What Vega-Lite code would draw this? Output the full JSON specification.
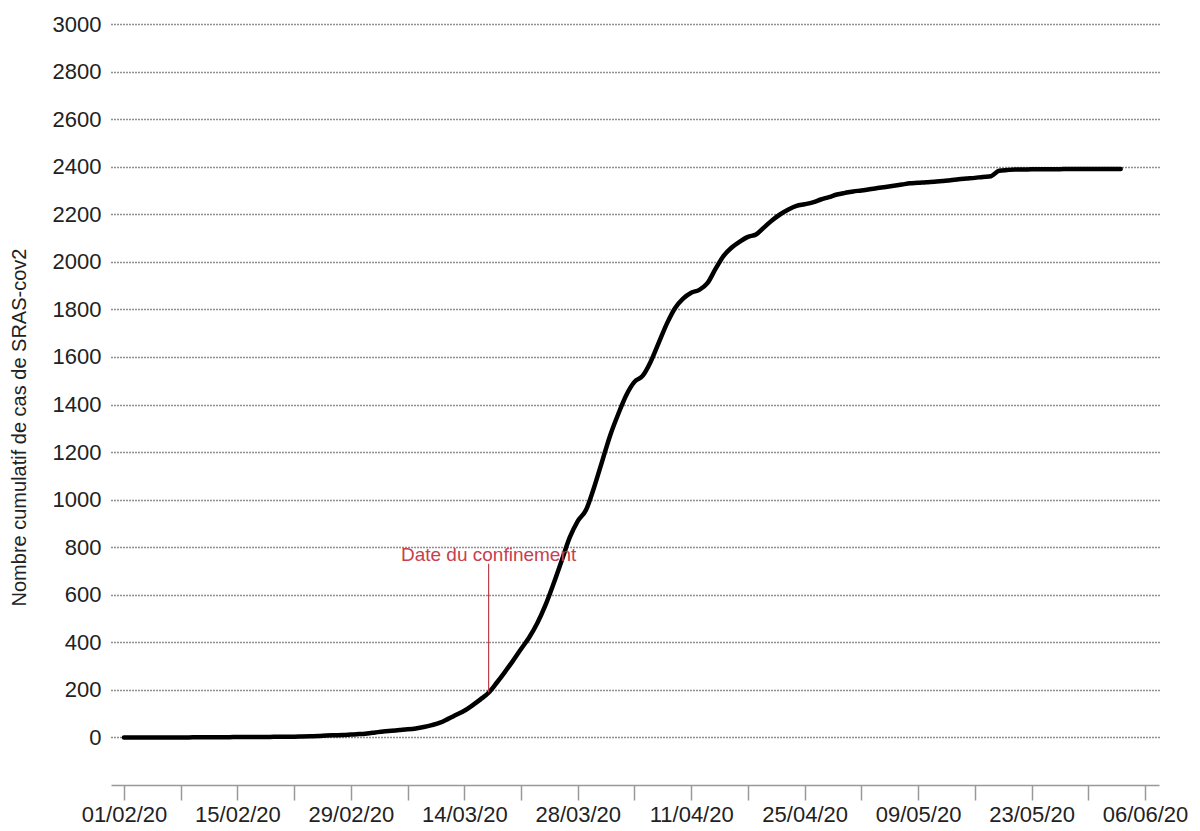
{
  "$schema": "https://vega.github.io/schema/vega-lite/v6.json",
  "width": 1048,
  "height": 761,
  "autosize": {"type": "none"},
  "padding": {"left": 111, "top": 24, "right": 41, "bottom": 46},
  "background": "white",
  "config": {
    "view": {"stroke": null},
    "font": "Liberation Sans"
  },
  "datasets": {
    "cases": [
      {"d": "2020-02-01", "n": 0}, {"d": "2020-02-02", "n": 0}, {"d": "2020-02-03", "n": 0}, {"d": "2020-02-04", "n": 0},
      {"d": "2020-02-05", "n": 0}, {"d": "2020-02-06", "n": 0}, {"d": "2020-02-07", "n": 0}, {"d": "2020-02-08", "n": 0},
      {"d": "2020-02-09", "n": 0}, {"d": "2020-02-10", "n": 1}, {"d": "2020-02-11", "n": 1}, {"d": "2020-02-12", "n": 1},
      {"d": "2020-02-13", "n": 1}, {"d": "2020-02-14", "n": 1}, {"d": "2020-02-15", "n": 2}, {"d": "2020-02-16", "n": 2},
      {"d": "2020-02-17", "n": 2}, {"d": "2020-02-18", "n": 2}, {"d": "2020-02-19", "n": 2}, {"d": "2020-02-20", "n": 3},
      {"d": "2020-02-21", "n": 3}, {"d": "2020-02-22", "n": 3}, {"d": "2020-02-23", "n": 4}, {"d": "2020-02-24", "n": 5},
      {"d": "2020-02-25", "n": 6}, {"d": "2020-02-26", "n": 8}, {"d": "2020-02-27", "n": 9}, {"d": "2020-02-28", "n": 10},
      {"d": "2020-02-29", "n": 12},
      {"d": "2020-03-01", "n": 14}, {"d": "2020-03-02", "n": 17}, {"d": "2020-03-03", "n": 21}, {"d": "2020-03-04", "n": 25},
      {"d": "2020-03-05", "n": 28}, {"d": "2020-03-06", "n": 31}, {"d": "2020-03-07", "n": 34}, {"d": "2020-03-08", "n": 38},
      {"d": "2020-03-09", "n": 44}, {"d": "2020-03-10", "n": 52}, {"d": "2020-03-11", "n": 62}, {"d": "2020-03-12", "n": 78},
      {"d": "2020-03-13", "n": 95}, {"d": "2020-03-14", "n": 112}, {"d": "2020-03-15", "n": 135}, {"d": "2020-03-16", "n": 160},
      {"d": "2020-03-17", "n": 188}, {"d": "2020-03-18", "n": 230}, {"d": "2020-03-19", "n": 275}, {"d": "2020-03-20", "n": 322},
      {"d": "2020-03-21", "n": 372}, {"d": "2020-03-22", "n": 420}, {"d": "2020-03-23", "n": 480}, {"d": "2020-03-24", "n": 555},
      {"d": "2020-03-25", "n": 645}, {"d": "2020-03-26", "n": 742}, {"d": "2020-03-27", "n": 840}, {"d": "2020-03-28", "n": 910},
      {"d": "2020-03-29", "n": 955}, {"d": "2020-03-30", "n": 1050}, {"d": "2020-03-31", "n": 1160},
      {"d": "2020-04-01", "n": 1270}, {"d": "2020-04-02", "n": 1360}, {"d": "2020-04-03", "n": 1440}, {"d": "2020-04-04", "n": 1495},
      {"d": "2020-04-05", "n": 1520}, {"d": "2020-04-06", "n": 1580}, {"d": "2020-04-07", "n": 1660}, {"d": "2020-04-08", "n": 1740},
      {"d": "2020-04-09", "n": 1805}, {"d": "2020-04-10", "n": 1845}, {"d": "2020-04-11", "n": 1870}, {"d": "2020-04-12", "n": 1882},
      {"d": "2020-04-13", "n": 1910}, {"d": "2020-04-14", "n": 1970}, {"d": "2020-04-15", "n": 2025}, {"d": "2020-04-16", "n": 2060},
      {"d": "2020-04-17", "n": 2085}, {"d": "2020-04-18", "n": 2105}, {"d": "2020-04-19", "n": 2115}, {"d": "2020-04-20", "n": 2145},
      {"d": "2020-04-21", "n": 2175}, {"d": "2020-04-22", "n": 2200}, {"d": "2020-04-23", "n": 2220}, {"d": "2020-04-24", "n": 2235},
      {"d": "2020-04-25", "n": 2242}, {"d": "2020-04-26", "n": 2250}, {"d": "2020-04-27", "n": 2262}, {"d": "2020-04-28", "n": 2272},
      {"d": "2020-04-29", "n": 2283}, {"d": "2020-04-30", "n": 2290},
      {"d": "2020-05-01", "n": 2296}, {"d": "2020-05-02", "n": 2300}, {"d": "2020-05-03", "n": 2305}, {"d": "2020-05-04", "n": 2310},
      {"d": "2020-05-05", "n": 2315}, {"d": "2020-05-06", "n": 2320}, {"d": "2020-05-07", "n": 2325}, {"d": "2020-05-08", "n": 2330},
      {"d": "2020-05-09", "n": 2332}, {"d": "2020-05-10", "n": 2335}, {"d": "2020-05-11", "n": 2337}, {"d": "2020-05-12", "n": 2340},
      {"d": "2020-05-13", "n": 2343}, {"d": "2020-05-14", "n": 2347}, {"d": "2020-05-15", "n": 2350}, {"d": "2020-05-16", "n": 2353},
      {"d": "2020-05-17", "n": 2357}, {"d": "2020-05-18", "n": 2360}, {"d": "2020-05-19", "n": 2383}, {"d": "2020-05-20", "n": 2386},
      {"d": "2020-05-21", "n": 2388}, {"d": "2020-05-22", "n": 2388}, {"d": "2020-05-23", "n": 2389}, {"d": "2020-05-24", "n": 2389},
      {"d": "2020-05-25", "n": 2389}, {"d": "2020-05-26", "n": 2389}, {"d": "2020-05-27", "n": 2390}, {"d": "2020-05-28", "n": 2390},
      {"d": "2020-05-29", "n": 2390}, {"d": "2020-05-30", "n": 2390}, {"d": "2020-05-31", "n": 2390},
      {"d": "2020-06-01", "n": 2390}, {"d": "2020-06-02", "n": 2390}, {"d": "2020-06-03", "n": 2390}
    ],
    "annot": [
      {"d": "2020-03-17", "lo": 190, "hi": 730, "ty": 766, "label": "Date du confinement"}
    ]
  },
  "layer": [
    {
      "data": {"name": "cases"},
      "mark": {"type": "line", "color": "black", "strokeWidth": 4.5, "interpolate": "monotone", "strokeCap": "round", "strokeJoin": "round"},
      "encoding": {
        "x": {
          "field": "d", "type": "temporal",
          "scale": {"type": "utc", "domain": [
            {"year": 2020, "month": "jan", "date": 30, "hours": 9, "minutes": 36, "utc": true},
            {"year": 2020, "month": "jun", "date": 7, "hours": 17, "minutes": 30, "utc": true}
          ]},
          "axis": {
            "title": null,
            "grid": false,
            "values": [
              {"year": 2020, "month": "feb", "date": 1, "utc": true},
              {"year": 2020, "month": "feb", "date": 8, "utc": true},
              {"year": 2020, "month": "feb", "date": 15, "utc": true},
              {"year": 2020, "month": "feb", "date": 22, "utc": true},
              {"year": 2020, "month": "feb", "date": 29, "utc": true},
              {"year": 2020, "month": "mar", "date": 7, "utc": true},
              {"year": 2020, "month": "mar", "date": 14, "utc": true},
              {"year": 2020, "month": "mar", "date": 21, "utc": true},
              {"year": 2020, "month": "mar", "date": 28, "utc": true},
              {"year": 2020, "month": "apr", "date": 4, "utc": true},
              {"year": 2020, "month": "apr", "date": 11, "utc": true},
              {"year": 2020, "month": "apr", "date": 18, "utc": true},
              {"year": 2020, "month": "apr", "date": 25, "utc": true},
              {"year": 2020, "month": "may", "date": 2, "utc": true},
              {"year": 2020, "month": "may", "date": 9, "utc": true},
              {"year": 2020, "month": "may", "date": 16, "utc": true},
              {"year": 2020, "month": "may", "date": 23, "utc": true},
              {"year": 2020, "month": "may", "date": 30, "utc": true},
              {"year": 2020, "month": "jun", "date": 6, "utc": true}
            ],
            "labelExpr": "round((datum.value - 1580515200000) / 604800000) % 2 == 0 ? utcFormat(datum.value, '%d/%m/%y') : ''",
            "labelFlush": false,
            "labelOverlap": false,
            "labelFontSize": 22,
            "labelColor": "#222",
            "labelPadding": 4,
            "domainColor": "#999",
            "domainWidth": 1.5,
            "tickColor": "#999",
            "tickWidth": 1.5,
            "tickSize": 15
          }
        },
        "y": {
          "field": "n", "type": "quantitative",
          "scale": {"domain": [-200, 3000], "nice": false, "zero": false},
          "axis": {
            "title": "Nombre cumulatif de cas de SRAS-cov2",
            "titleFontSize": 20,
            "titleFontWeight": "normal",
            "titleColor": "#222",
            "titleX": -92,
            "titleY": 403,
            "titleAngle": -90,
            "titleAlign": "center",
            "titleBaseline": "middle",
            "values": [0, 200, 400, 600, 800, 1000, 1200, 1400, 1600, 1800, 2000, 2200, 2400, 2600, 2800, 3000],
            "format": "d",
            "grid": true,
            "gridColor": "#222",
            "gridDash": [1, 2],
            "gridWidth": 1.3,
            "domain": false,
            "ticks": false,
            "labelPadding": 10,
            "labelFontSize": 22,
            "labelColor": "#222"
          }
        }
      }
    },
    {
      "data": {"name": "annot"},
      "mark": {"type": "rule", "color": "#b8404c", "strokeWidth": 1.2},
      "encoding": {
        "x": {"field": "d", "type": "temporal"},
        "y": {"field": "lo", "type": "quantitative"},
        "y2": {"field": "hi"}
      }
    },
    {
      "data": {"name": "annot"},
      "mark": {"type": "text", "color": "#c8404c", "fontSize": 19, "align": "center", "baseline": "middle"},
      "encoding": {
        "x": {"field": "d", "type": "temporal"},
        "y": {"field": "ty", "type": "quantitative"},
        "text": {"field": "label"}
      }
    }
  ]
}
